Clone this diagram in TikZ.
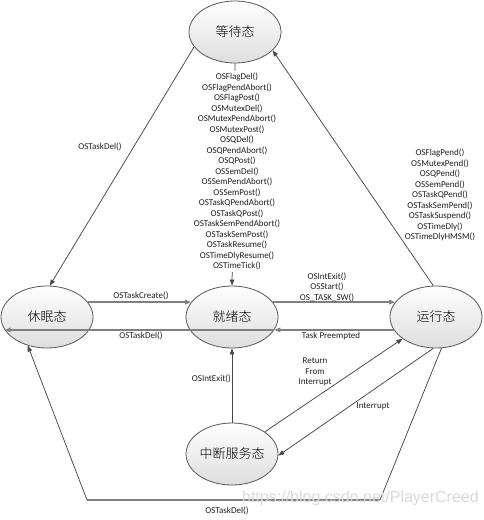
\documentclass[tikz,border=0pt]{standalone}
\usepackage{fontspec}
\setmainfont{Carlito}
\newfontfamily\cjk{Noto Sans CJK SC Light}
\newfontfamily\wmfont{Liberation Sans}
\usetikzlibrary{shapes.geometric,arrows.meta}
\begin{document}
\begin{tikzpicture}[x=1pt,y=-1pt,
  state/.style={ellipse, draw=black!65, line width=0.8pt, top color=white, bottom color=black!13,
    minimum width=92pt, minimum height=62pt, inner sep=0pt, font=\cjk\fontsize{13}{15}\selectfont},
  conn/.style={draw=black!72, line width=0.75pt, -{Triangle[length=6pt,width=4.5pt]}},
  hconn/.style={conn, draw=black!50, line width=1.3pt},
  lab/.style={font=\fontsize{9}{10.5}\selectfont, text=black!88, inner sep=0pt, align=center}]
\useasboundingbox (0,0) rectangle (484,520);

\node[state] (wait)  at (235,32)  {等待态};
\node[state] (sleep) at (47,317)  {休眠态};
\node[state] (ready) at (232,317) {就绪态};
\node[state] (run)   at (436,317) {运行态};
\node[state] (isr)   at (232,454) {中断服务态};

% waiting -> dormant
\draw[conn] (wait.200) -- (sleep.85);
\node[lab] (l1) at (100,147) {OSTaskDel()};

% running -> waiting
\draw[conn] (run.95) -- (wait.334);
\node[lab] (l2) at (440,195) {OSFlagPend()\\OSMutexPend()\\OSQPend()\\OSSemPend()\\OSTaskQPend()\\OSTaskSemPend()\\OSTaskSuspend()\\OSTimeDly()\\OSTimeDlyHMSM()};

% waiting -> ready
\draw[conn] (wait.south) -- (ready.north);
\node[lab, fill=white, inner sep=2pt] (l3) at (237,171.5) {OSFlagDel()\\OSFlagPendAbort()\\OSFlagPost()\\OSMutexDel()\\OSMutexPendAbort()\\OSMutexPost()\\OSQDel()\\OSQPendAbort()\\OSQPost()\\OSSemDel()\\OSSemPendAbort()\\OSSemPost()\\OSTaskQPendAbort()\\OSTaskQPost()\\OSTaskSemPendAbort()\\OSTaskSemPost()\\OSTaskResume()\\OSTimeDlyResume()\\OSTimeTick()};

% dormant <-> ready
\draw[hconn] (sleep.20) -- (ready.160);
\node[lab] (l4) at (141,296) {OSTaskCreate()};
\draw[hconn] (ready.-17) -- (sleep.197);
\node[lab] (l5) at (141,336) {OSTaskDel()};

% ready <-> running
\draw[hconn] (ready.20) -- (run.160);
\node[lab] (l6) at (327,287) {OSIntExit()\\OSStart()\\OS\_TASK\_SW()};
\draw[hconn] (run.197) -- (ready.-17);
\node[lab] (l7) at (331,336) {Task Preempted};

% ISR -> ready
\draw[conn] (isr.north) -- (ready.south);
\node[lab, anchor=east] (l8) at (231,379) {OSIntExit()};

% ISR <-> running
\draw[conn] (isr.34) -- (run.213);
\node[lab] (l9) at (315,372) {Return\\From\\Interrupt};
\draw[conn] (run.265) -- (isr.-2);
\node[lab] (l10) at (373,406) {Interrupt};

% running -> dormant
\coordinate (c1) at (380,500);
\coordinate (c2) at (87,500);
\draw[draw=black!72, line width=0.75pt] (run.280) -- (c1);
\draw[draw=black!50, line width=1.3pt] (c1) -- (c2);
\draw[conn] (c2) -- (sleep.236);
\node[lab] (l11) at (227,511) {OSTaskDel()};

% watermark
\node[font=\wmfont\fontsize{16}{18}\selectfont, text=black!15, inner sep=0pt, anchor=west] (wm) at (242,498) {https://blog.csdn.net/PlayerCreed};
\end{tikzpicture}
\end{document}
